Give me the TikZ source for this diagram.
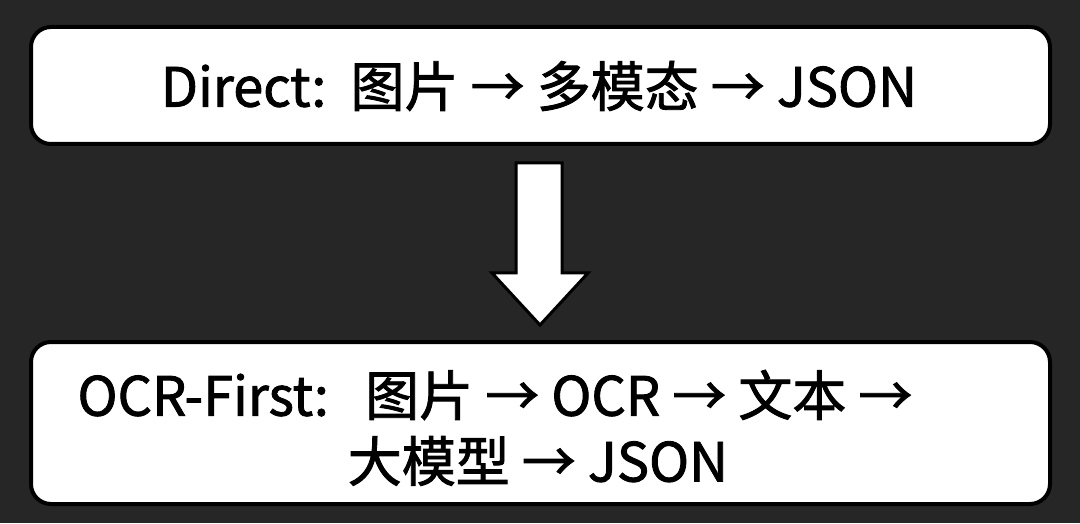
\documentclass[tikz,border=0pt]{standalone}
\usepackage{fontspec}
\setmainfont{Noto Sans CJK SC}[FakeBold=1.6]
\definecolor{bgdark}{HTML}{262626}
\tikzset{
  panel/.style={draw=black, line width=4pt, fill=white, rounded corners=20pt, inner sep=0pt},
  lbl/.style={font=\fontsize{54}{64}\selectfont, text=black, inner sep=0pt, anchor=center},
  blockarrow/.style={draw=black, line width=3pt, fill=white, line join=miter}
}
\begin{document}
\begin{tikzpicture}[x=1pt,y=1pt]
\fill[bgdark] (0,0) rectangle (1080,523);
\useasboundingbox (0,0) rectangle (1080,523);
% top box
\node[panel, minimum width=1019pt, minimum height=117pt] (box1) at (540.5,437.5) {};
\node[lbl] (t1) at (539,437) {Direct:\ \ 图片 → 多模态 → JSON};
% bottom box
\node[panel, minimum width=1019pt, minimum height=162pt] (box2) at (540.5,100) {};
\node[lbl] (t2a) at (495,128) {OCR-First:\ \ \ 图片 → OCR → 文本 →};
\node[lbl] (t2b) at (538,62) {大模型 → JSON};
% block arrow
\draw[blockarrow] (516,360) -- (562,360) -- (562,250) -- (588,250) -- (540,198) -- (492,250) -- (516,250) -- cycle;
\end{tikzpicture}
\end{document}
